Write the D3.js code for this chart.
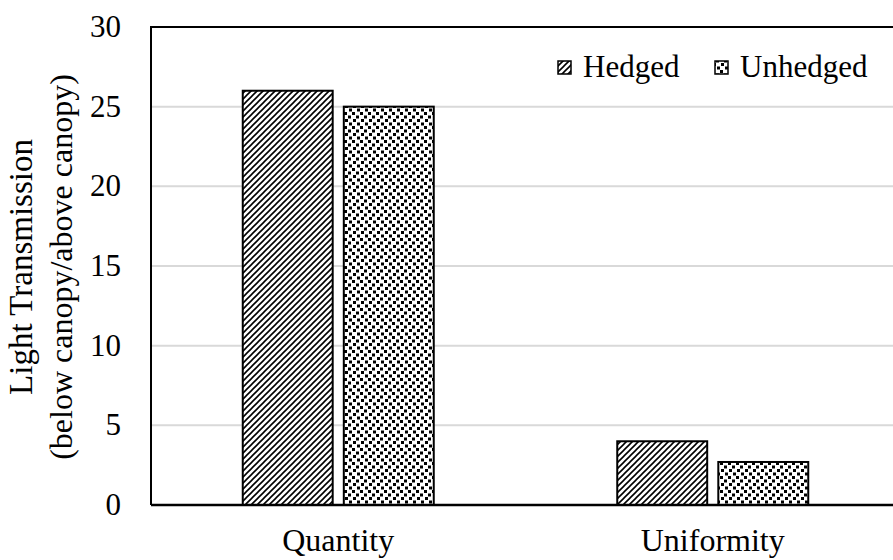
<!DOCTYPE html>
<html><head><meta charset="utf-8">
<script src="https://cdn.jsdelivr.net/npm/d3@7"></script>
<style>body{margin:0;background:#fff}svg{display:block}text{font-family:"Liberation Serif","Times New Roman",serif;fill:#000}</style>
</head><body><svg id="c" width="893" height="560"></svg>
<script>
const categories = ["Quantity", "Uniformity"];
const seriesNames = ["Hedged", "Unhedged"];
const hedged = [26, 4];
const unhedged = [25, 2.7];
const yTicks = [0, 5, 10, 15, 20, 25, 30];

const svg = d3.select("#c");
const L = 151, R = 900, T = 27, B = 505;
const defs = svg.append("defs");
const p1 = defs.append("pattern").attr("id","hatch").attr("patternUnits","userSpaceOnUse").attr("width",6).attr("height",6);
p1.append("rect").attr("width",6).attr("height",6).attr("fill","#fff");
p1.append("path").attr("d","M-1.5,1.5 l3,-3 M0,6 l6,-6 M4.5,7.5 l3,-3").attr("stroke","#000").attr("stroke-width",1.6);
const p2 = defs.append("pattern").attr("id","dots").attr("patternUnits","userSpaceOnUse").attr("width",8).attr("height",14);
p2.append("rect").attr("width",8).attr("height",14).attr("fill","#fff");
[[0,0],[4,3.5],[1,7],[5,10.5]].forEach(([x,y])=>p2.append("rect").attr("x",x).attr("y",y).attr("width",3).attr("height",3).attr("fill","#000"));

const y = d3.scaleLinear().domain([0,30]).range([B,T]);
const x0 = d3.scaleBand().domain(categories).range([L,R]);
const x1 = d3.scaleBand().domain(seriesNames).range([0,191]).paddingInner(0.11);

svg.append("g").selectAll("line").data(yTicks.filter(t=>t>0&&t<30)).join("line")
  .attr("x1",L).attr("x2",893).attr("y1",d=>y(d)).attr("y2",d=>y(d)).attr("stroke","#d9d9d9").attr("stroke-width",2);

const fills = {Hedged:"url(#hatch)", Unhedged:"url(#dots)"};
const data = [];
categories.forEach((c,i)=>{ data.push({c,s:"Hedged",v:hedged[i]}); data.push({c,s:"Unhedged",v:unhedged[i]}); });
svg.append("g").selectAll("rect").data(data).join("rect")
  .attr("x",d=>x0(d.c)+x0.bandwidth()/2-95.5+x1(d.s)).attr("width",x1.bandwidth())
  .attr("y",d=>y(d.v)).attr("height",d=>B-y(d.v))
  .attr("fill",d=>fills[d.s]).attr("stroke","#000").attr("stroke-width",2);

// frame
svg.append("path").attr("d",`M${L},${B} V${T} H893`).attr("fill","none").attr("stroke","#000").attr("stroke-width",2);
svg.append("line").attr("x1",L).attr("x2",893).attr("y1",B).attr("y2",B).attr("stroke","#000").attr("stroke-width",2.5);

// y ticks
svg.append("g").selectAll("text").data(yTicks).join("text")
  .attr("x",121).attr("y",d=>y(d)+10).attr("text-anchor","end").attr("font-size",31).text(d=>d);

// x labels
svg.append("g").selectAll("text").data(categories).join("text")
  .attr("x",d=>x0(d)+x0.bandwidth()/2).attr("y",551).attr("text-anchor","middle").attr("font-size",32).text(d=>d);

// y title
const yt = svg.append("text").attr("transform","translate(0,267) rotate(-90)").attr("text-anchor","middle");
yt.append("tspan").attr("x",0).attr("y",32).attr("font-size",33).text("Light Transmission");
yt.append("tspan").attr("x",0).attr("y",72).attr("font-size",32).text("(below canopy/above canopy)");

// legend
const lg = svg.append("g");
const lx = [558, 715];
seriesNames.forEach((s,i)=>{
  lg.append("rect").attr("x",lx[i]).attr("y",61).attr("width",13).attr("height",13).attr("fill",fills[s]).attr("stroke","#000").attr("stroke-width",1.5);
  lg.append("text").attr("x",lx[i]+25).attr("y",77).attr("font-size",31).text(s);
});
</script></body></html>
